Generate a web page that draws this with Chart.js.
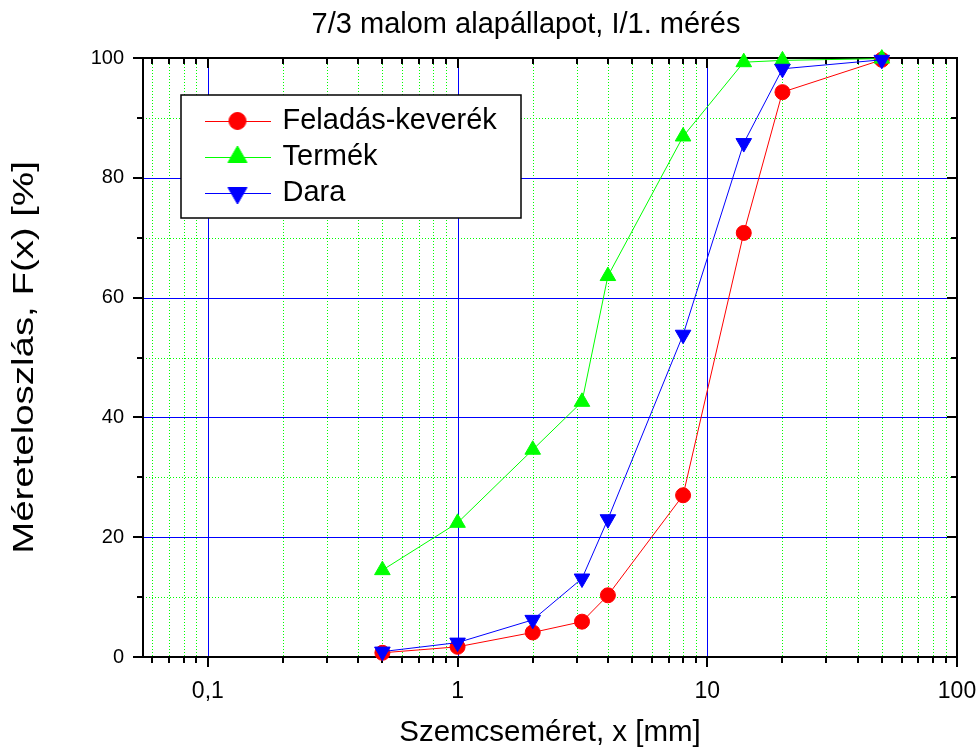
<!DOCTYPE html>
<html>
<head>
<meta charset="utf-8">
<script src="https://cdn.jsdelivr.net/npm/chart.js@4.4.0/dist/chart.umd.min.js"></script>
<style>
html,body{margin:0;padding:0;background:#fff;}
#wrap{width:980px;height:749px;position:relative;}
</style>
</head>
<body>
<div id="wrap"><canvas id="c" width="980" height="749"></canvas></div>
<script>
// ---- data ----
const chartTitle = '7/3 malom alapállapot, I/1. mérés';
const xAxisTitle = 'Szemcseméret, x [mm]';
const yAxisTitle = 'Méreteloszlás, F(x) [%]';
const seriesNames = ['Feladás-keverék', 'Termék', 'Dara'];
const sizes   = [0.5, 1, 2, 3.15, 4, 8, 14, 20, 50];
const feladas = [0.7, 1.7, 4.1, 5.9, 10.3, 27.0, 70.8, 94.3, 99.7];
const termek  = [14.5, 22.4, 34.6, 42.6, 63.6, 86.9, 99.3, 99.6, 99.9];
const dara    = [0.9, 2.4, 6.2, 13.1, 23.0, 53.8, 85.8, 98.2, 99.7];
const xMajorTicks = [0.1, 1, 10, 100];
const xTickLabels = ['0,1', '1', '10', '100'];
const xMinorTicks = [0.06, 0.07, 0.08, 0.09, 0.2, 0.3, 0.4, 0.5, 0.6, 0.7, 0.8, 0.9,
                     2, 3, 4, 5, 6, 7, 8, 9, 20, 30, 40, 50, 60, 70, 80, 90];
const yMajorTicks = [0, 20, 40, 60, 80, 100];
const yMinorTicks = [10, 30, 50, 70, 90];

// ---- styling / layout ----
const COLORS = ['#ff0000', '#00ff00', '#0000ff'];
const SANS = "'Liberation Sans', Arial, sans-serif";
const LEGEND_BOX = {x: 181, y: 95, w: 340, h: 123};
const Y_TITLE_STRETCH = 1.28;

function legendIcon(color, style, rotation, radius) {
  const c = document.createElement('canvas');
  c.width = 66; c.height = 26;
  const g = c.getContext('2d');
  g.strokeStyle = color; g.fillStyle = color; g.lineWidth = 1;
  g.beginPath(); g.moveTo(0, 13.5); g.lineTo(66, 13.5); g.stroke();
  Chart.helpers.drawPoint(g, {pointStyle: style, rotation: rotation, radius: radius, borderWidth: 1}, 33, 13);
  return c;
}
const legendIcons = [
  legendIcon(COLORS[0], 'circle', 0, 8.5),
  legendIcon(COLORS[1], 'triangle', 0, 11),
  legendIcon(COLORS[2], 'triangle', 180, 11)
];

const framePlugin = {
  id: 'frameGrid',
  afterLayout(chart) {
    if (chart.titleBlock) { chart.titleBlock.left = 72; chart.titleBlock.right = 980; }
    const lg = chart.legend;
    if (lg) {
      lg.left = 200; lg.top = 99.5; lg.right = LEGEND_BOX.x + LEGEND_BOX.w; lg.bottom = 250;
      lg.width = lg.right - lg.left; lg.height = lg.bottom - lg.top;
    }
    const ys = chart.scales.y;
    if (ys && !ys._stretchWrapped) {
      const orig = ys.drawTitle.bind(ys);
      ys.drawTitle = function () {
        const ctx = this.ctx, cy = (this.top + this.bottom) / 2;
        ctx.save();
        ctx.translate(0, cy); ctx.scale(1, Y_TITLE_STRETCH); ctx.translate(0, -cy);
        orig();
        ctx.restore();
      };
      ys._stretchWrapped = true;
    }
  },
  beforeDraw(chart) {
    const {ctx, chartArea: a, scales: {x, y}} = chart;
    ctx.save();
    ctx.lineWidth = 1;
    // minor grid (green dotted)
    ctx.strokeStyle = '#00ff00';
    ctx.setLineDash([1, 2]);
    ctx.beginPath();
    xMinorTicks.forEach(v => { const px = Math.round(x.getPixelForValue(v)) + 0.5; ctx.moveTo(px, a.top); ctx.lineTo(px, a.bottom); });
    yMinorTicks.forEach(v => { const py = Math.round(y.getPixelForValue(v)) + 0.5; ctx.moveTo(a.left, py); ctx.lineTo(a.right, py); });
    ctx.stroke();
    // major grid (blue solid)
    ctx.setLineDash([]);
    ctx.strokeStyle = '#0000ff';
    ctx.beginPath();
    xMajorTicks.forEach(v => { const px = Math.round(x.getPixelForValue(v)) + 0.5; if (px > a.left + 2 && px < a.right - 2) { ctx.moveTo(px, a.top); ctx.lineTo(px, a.bottom); } });
    yMajorTicks.forEach(v => { const py = Math.round(y.getPixelForValue(v)) + 0.5; if (py > a.top + 2 && py < a.bottom - 2) { ctx.moveTo(a.left, py); ctx.lineTo(a.right, py); } });
    ctx.stroke();
    // legend box
    ctx.fillStyle = '#fff';
    ctx.fillRect(LEGEND_BOX.x, LEGEND_BOX.y, LEGEND_BOX.w, LEGEND_BOX.h);
    ctx.strokeStyle = '#000';
    ctx.lineWidth = 1.5;
    ctx.strokeRect(LEGEND_BOX.x, LEGEND_BOX.y, LEGEND_BOX.w, LEGEND_BOX.h);
    // frame
    ctx.lineWidth = 2;
    ctx.strokeStyle = '#000';
    ctx.strokeRect(a.left, a.top, a.right - a.left, a.bottom - a.top);
    // tick marks
    const MAJ = 10, MIN = 6;
    ctx.beginPath();
    const xt = (v, len) => { const px = Math.round(x.getPixelForValue(v));
      ctx.moveTo(px, a.bottom); ctx.lineTo(px, a.bottom + len);
      ctx.moveTo(px, a.top); ctx.lineTo(px, a.top + len); };
    const yt = (v, len) => { const py = Math.round(y.getPixelForValue(v));
      ctx.moveTo(a.left - len, py); ctx.lineTo(a.left, py);
      ctx.moveTo(a.right - len, py); ctx.lineTo(a.right, py); };
    xMajorTicks.forEach(v => xt(v, MAJ));
    xMinorTicks.forEach(v => xt(v, MIN));
    yMajorTicks.forEach(v => yt(v, MAJ));
    yMinorTicks.forEach(v => yt(v, MIN));
    ctx.stroke();
    ctx.restore();
  }
};

function series(vals, i, style, rot, r) {
  return {
    label: seriesNames[i],
    data: sizes.map((s, k) => ({x: s, y: vals[k]})),
    showLine: true,
    borderColor: COLORS[i],
    backgroundColor: COLORS[i],
    borderWidth: 1,
    pointStyle: style,
    rotation: rot,
    pointRadius: r,
    pointHoverRadius: r,
    pointBorderWidth: 1,
    tension: 0,
    clip: false,
    order: 3 - i
  };
}

new Chart(document.getElementById('c'), {
  type: 'scatter',
  data: {
    datasets: [
      series(feladas, 0, 'circle', 0, 7.5),
      series(termek, 1, 'triangle', 0, 9),
      series(dara, 2, 'triangle', 180, 9)
    ]
  },
  options: {
    responsive: false,
    animation: false,
    events: [],
    layout: {padding: {left: 0, right: 23, top: 0, bottom: 0}},
    plugins: {
      title: {
        display: true,
        text: chartTitle,
        color: '#000',
        font: {family: SANS, size: 29, weight: 'normal'},
        padding: {top: 8, bottom: 15.2}
      },
      legend: {
        display: true,
        position: 'left',
        align: 'start',
        maxWidth: 1,
        labels: {
          usePointStyle: true,
          pointStyleWidth: 61,
          padding: 7,
          color: '#000',
          font: {family: SANS, size: 29},
          generateLabels(chart) {
            return chart.data.datasets.map((ds, i) => ({
              text: ds.label,
              datasetIndex: i,
              pointStyle: legendIcons[i],
              rotation: 0,
              fillStyle: COLORS[i],
              strokeStyle: COLORS[i],
              lineWidth: 0,
              hidden: false,
              fontColor: '#000'
            }));
          }
        }
      },
      tooltip: {enabled: false}
    },
    scales: {
      x: {
        type: 'logarithmic',
        min: 0.055,
        max: 100,
        afterBuildTicks: s => { s.ticks = xMajorTicks.map(v => ({value: v})); },
        afterFit: s => { s.height = 92; s.paddingLeft = 0; s.paddingRight = 0; },
        grid: {display: false, drawTicks: false},
        border: {display: false},
        ticks: {
          autoSkip: false, maxRotation: 0, minRotation: 0,
          padding: 21,
          color: '#000',
          font: {family: SANS, size: 23},
          callback: v => { const i = xMajorTicks.indexOf(v); return i >= 0 ? xTickLabels[i] : ''; }
        },
        title: {
          display: true,
          text: xAxisTitle,
          color: '#000',
          font: {family: SANS, size: 29.5},
          padding: {top: 0, bottom: -2}
        }
      },
      y: {
        min: 0,
        max: 100,
        afterBuildTicks: s => { s.ticks = yMajorTicks.map(v => ({value: v})); },
        afterFit: s => { s.width = 142; s.paddingTop = 0; s.paddingBottom = 0; },
        grid: {display: false, drawTicks: false},
        border: {display: false},
        ticks: {
          padding: 19,
          color: '#000',
          font: {family: SANS, size: 20}
        },
        title: {
          display: true,
          text: yAxisTitle,
          color: '#000',
          font: {family: SANS, size: 30},
          padding: {top: 6, bottom: 0}
        }
      }
    }
  },
  plugins: [framePlugin]
});
</script>
</body>
</html>
